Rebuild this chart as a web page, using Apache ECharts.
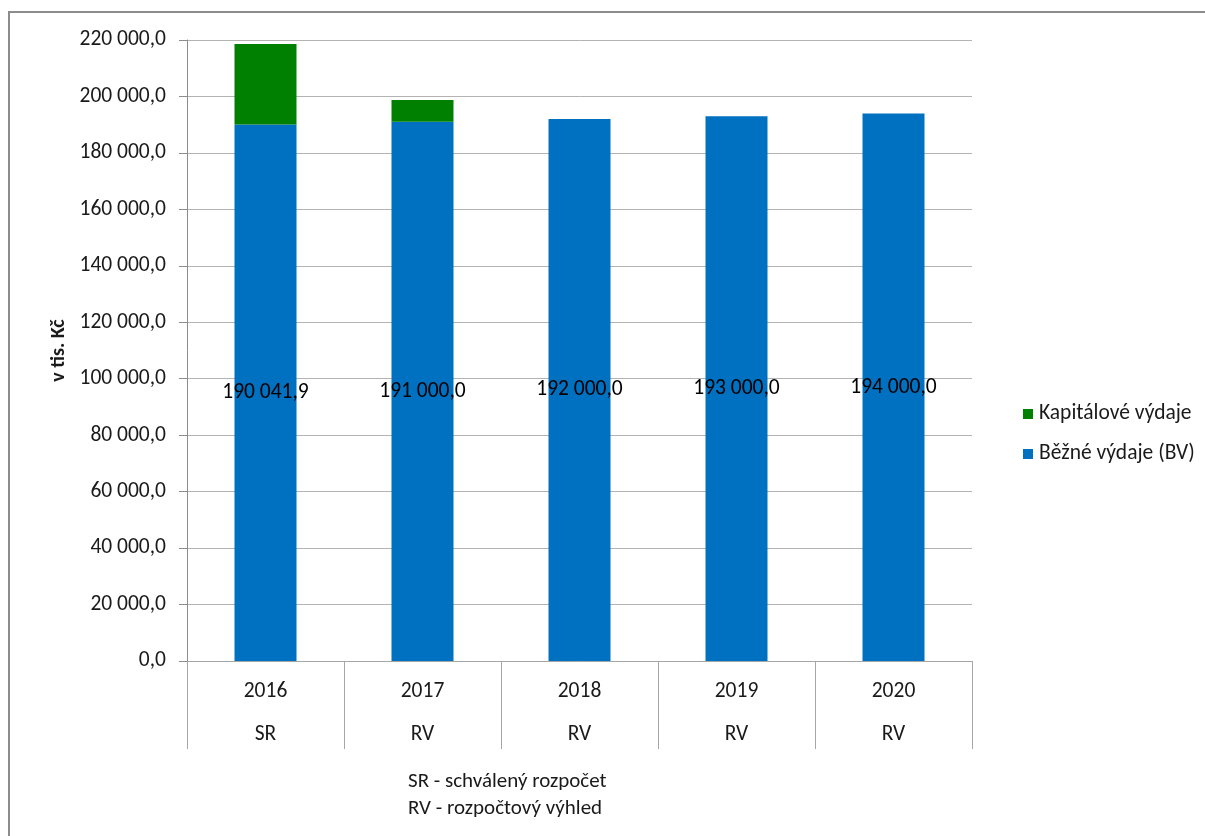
<!DOCTYPE html>
<html>
<head>
<meta charset="utf-8">
<script src="https://cdn.jsdelivr.net/npm/echarts@6/dist/echarts.min.js"></script>
<style>
  html, body { margin: 0; padding: 0; background: #fff; }
  #chart { width: 1205px; height: 836px; }
</style>
</head>
<body>
<div id="chart"></div>
<script>
// Výdaje v tis. Kč podle let
const years = ['2016', '2017', '2018', '2019', '2020'];
const budgetType = ['SR', 'RV', 'RV', 'RV', 'RV'];
const bezneVydaje = [190041.9, 191000.0, 192000.0, 193000.0, 194000.0];
const kapitaloveVydaje = [28500, 7700, 0, 0, 0];
const footnoteLines = ['SR - schválený rozpočet', 'RV - rozpočtový výhled'];

const FONT = 'Carlito, Lato, "Liberation Sans", sans-serif';
const FS = 21.5;

// Czech number format: space as thousands separator, comma as decimal mark
function czNum(v) {
  const s = Number(v).toFixed(1);
  const [i, d] = s.split('.');
  return i.replace(/\B(?=(\d{3})+(?!\d))/g, ' ') + ',' + d;
}

const chart = echarts.init(document.getElementById('chart'));
chart.setOption({
  animation: false,
  backgroundColor: '#fff',
  textStyle: { fontFamily: FONT },
  grid: { left: 187, right: 233, top: 40, bottom: 175 },
  legend: {
    orient: 'vertical',
    left: 1018,
    top: 398,
    itemWidth: 10,
    itemHeight: 10,
    itemGap: 18,
    icon: 'rect',
    data: ['Kapitálové výdaje', 'Běžné výdaje (BV)'],
    textStyle: { fontFamily: FONT, fontSize: FS, color: '#1a1a1a', lineHeight: 22, padding: [0, 0, 0, 1] }
  },
  xAxis: {
    type: 'category',
    data: years.map((y, i) => y + '\n' + budgetType[i]),
    axisLine: { lineStyle: { color: '#a6a6a6', width: 1 } },
    axisTick: { show: true, length: 88, interval: 0, lineStyle: { color: '#a6a6a6' } },
    axisLabel: { fontFamily: FONT, fontSize: FS, color: '#1a1a1a', lineHeight: 43, margin: 9, interval: 0 }
  },
  yAxis: {
    type: 'value',
    min: 0,
    max: 220000,
    interval: 20000,
    name: 'v tis. Kč',
    nameLocation: 'middle',
    nameGap: 118,
    nameTextStyle: { fontFamily: FONT, fontSize: 20, fontWeight: 'bold', color: '#1a1a1a' },
    axisLine: { show: true, lineStyle: { color: '#8c8c8c' } },
    axisTick: { show: true, length: 8, lineStyle: { color: '#8c8c8c' } },
    axisLabel: { fontFamily: FONT, fontSize: FS, color: '#1a1a1a', margin: 21, formatter: czNum },
    splitLine: { lineStyle: { color: '#b3b3b3', width: 1 } }
  },
  series: [
    {
      name: 'Běžné výdaje (BV)',
      type: 'bar',
      stack: 'vydaje',
      barWidth: 62,
      data: bezneVydaje,
      itemStyle: { color: '#0070C0' },
      label: {
        show: true,
        position: 'inside',
        formatter: p => czNum(p.value),
        fontFamily: FONT,
        fontSize: FS,
        color: '#000'
      }
    },
    {
      name: 'Kapitálové výdaje',
      type: 'bar',
      stack: 'vydaje',
      barWidth: 62,
      data: kapitaloveVydaje,
      itemStyle: { color: '#008000' }
    }
  ],
  graphic: [
    {
      type: 'rect',
      shape: { x: 9, y: 12, width: 1300, height: 900 },
      style: { fill: 'none', stroke: '#8c8c8c', lineWidth: 2 },
      silent: true
    },
    {
      type: 'text',
      left: 518 - 110,
      top: 768,
      style: {
        text: footnoteLines.join('\n'),
        fontFamily: FONT,
        fontSize: 21,
        lineHeight: 27,
        fill: '#1a1a1a',
        align: 'center',
        width: 220
      }
    }
  ]
});
</script>
</body>
</html>
